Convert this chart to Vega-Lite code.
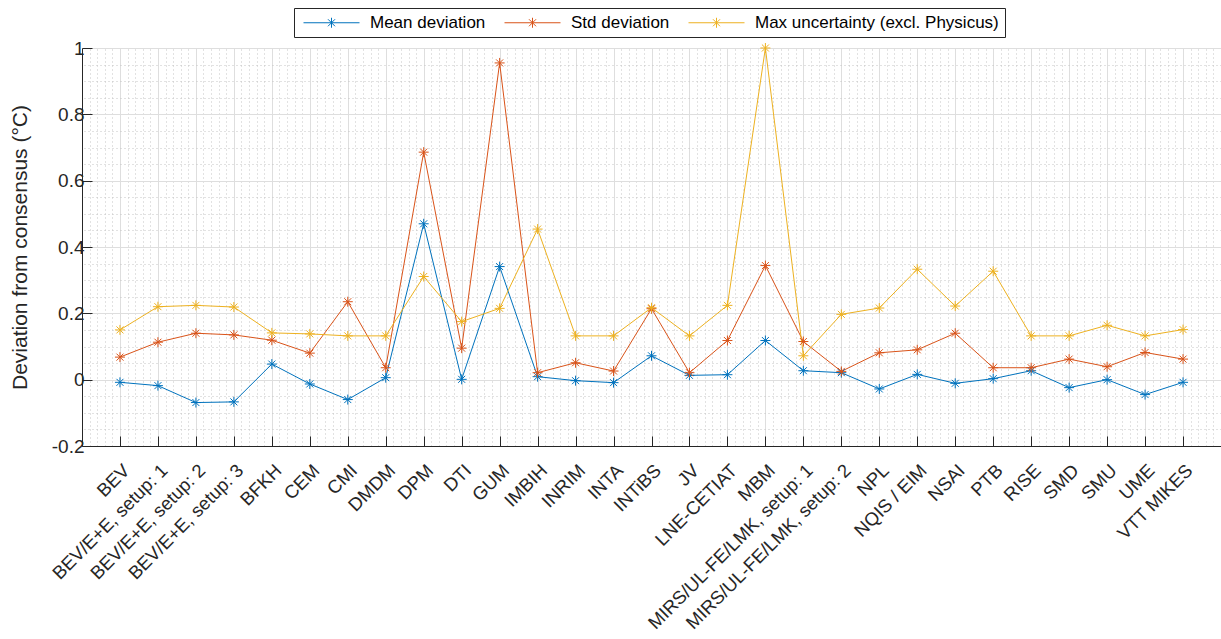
{
  "$schema": "https://vega.github.io/schema/vega-lite/v6.json",
  "width": 1139,
  "height": 398,
  "autosize": {"type": "none"},
  "padding": {"left": 82, "top": 48, "right": 0, "bottom": 193},
  "background": "white",
  "config": {
    "font": "Liberation Sans",
    "view": {"stroke": null},
    "axis": {"labelFont": "Liberation Sans", "titleFont": "Liberation Sans", "labelColor": "#262626", "titleColor": "#262626", "domainColor": "#262626", "tickColor": "#262626"}
  },
  "data": {"values": [
    {"lab": "BEV", "s": "Mean deviation", "v": -0.008},
    {"lab": "BEV/E+E, setup: 1", "s": "Mean deviation", "v": -0.018},
    {"lab": "BEV/E+E, setup: 2", "s": "Mean deviation", "v": -0.069},
    {"lab": "BEV/E+E, setup: 3", "s": "Mean deviation", "v": -0.067},
    {"lab": "BFKH", "s": "Mean deviation", "v": 0.047},
    {"lab": "CEM", "s": "Mean deviation", "v": -0.013},
    {"lab": "CMI", "s": "Mean deviation", "v": -0.060},
    {"lab": "DMDM", "s": "Mean deviation", "v": 0.006},
    {"lab": "DPM", "s": "Mean deviation", "v": 0.470},
    {"lab": "DTI", "s": "Mean deviation", "v": 0.001},
    {"lab": "GUM", "s": "Mean deviation", "v": 0.341},
    {"lab": "IMBIH", "s": "Mean deviation", "v": 0.009},
    {"lab": "INRIM", "s": "Mean deviation", "v": -0.003},
    {"lab": "INTA", "s": "Mean deviation", "v": -0.009},
    {"lab": "INTiBS", "s": "Mean deviation", "v": 0.072},
    {"lab": "JV", "s": "Mean deviation", "v": 0.013},
    {"lab": "LNE-CETIAT", "s": "Mean deviation", "v": 0.015},
    {"lab": "MBM", "s": "Mean deviation", "v": 0.118},
    {"lab": "MIRS/UL-FE/LMK, setup: 1", "s": "Mean deviation", "v": 0.027},
    {"lab": "MIRS/UL-FE/LMK, setup: 2", "s": "Mean deviation", "v": 0.021},
    {"lab": "NPL", "s": "Mean deviation", "v": -0.028},
    {"lab": "NQIS / EIM", "s": "Mean deviation", "v": 0.016},
    {"lab": "NSAI", "s": "Mean deviation", "v": -0.011},
    {"lab": "PTB", "s": "Mean deviation", "v": 0.003},
    {"lab": "RISE", "s": "Mean deviation", "v": 0.027},
    {"lab": "SMD", "s": "Mean deviation", "v": -0.024},
    {"lab": "SMU", "s": "Mean deviation", "v": 0.000},
    {"lab": "UME", "s": "Mean deviation", "v": -0.045},
    {"lab": "VTT MIKES", "s": "Mean deviation", "v": -0.008},
    {"lab": "BEV", "s": "Std deviation", "v": 0.068},
    {"lab": "BEV/E+E, setup: 1", "s": "Std deviation", "v": 0.113},
    {"lab": "BEV/E+E, setup: 2", "s": "Std deviation", "v": 0.140},
    {"lab": "BEV/E+E, setup: 3", "s": "Std deviation", "v": 0.135},
    {"lab": "BFKH", "s": "Std deviation", "v": 0.119},
    {"lab": "CEM", "s": "Std deviation", "v": 0.080},
    {"lab": "CMI", "s": "Std deviation", "v": 0.235},
    {"lab": "DMDM", "s": "Std deviation", "v": 0.036},
    {"lab": "DPM", "s": "Std deviation", "v": 0.686},
    {"lab": "DTI", "s": "Std deviation", "v": 0.095},
    {"lab": "GUM", "s": "Std deviation", "v": 0.955},
    {"lab": "IMBIH", "s": "Std deviation", "v": 0.021},
    {"lab": "INRIM", "s": "Std deviation", "v": 0.051},
    {"lab": "INTA", "s": "Std deviation", "v": 0.026},
    {"lab": "INTiBS", "s": "Std deviation", "v": 0.214},
    {"lab": "JV", "s": "Std deviation", "v": 0.021},
    {"lab": "LNE-CETIAT", "s": "Std deviation", "v": 0.118},
    {"lab": "MBM", "s": "Std deviation", "v": 0.344},
    {"lab": "MIRS/UL-FE/LMK, setup: 1", "s": "Std deviation", "v": 0.115},
    {"lab": "MIRS/UL-FE/LMK, setup: 2", "s": "Std deviation", "v": 0.025},
    {"lab": "NPL", "s": "Std deviation", "v": 0.081},
    {"lab": "NQIS / EIM", "s": "Std deviation", "v": 0.090},
    {"lab": "NSAI", "s": "Std deviation", "v": 0.140},
    {"lab": "PTB", "s": "Std deviation", "v": 0.036},
    {"lab": "RISE", "s": "Std deviation", "v": 0.036},
    {"lab": "SMD", "s": "Std deviation", "v": 0.062},
    {"lab": "SMU", "s": "Std deviation", "v": 0.039},
    {"lab": "UME", "s": "Std deviation", "v": 0.082},
    {"lab": "VTT MIKES", "s": "Std deviation", "v": 0.062},
    {"lab": "BEV", "s": "Max uncertainty (excl. Physicus)", "v": 0.150},
    {"lab": "BEV/E+E, setup: 1", "s": "Max uncertainty (excl. Physicus)", "v": 0.220},
    {"lab": "BEV/E+E, setup: 2", "s": "Max uncertainty (excl. Physicus)", "v": 0.224},
    {"lab": "BEV/E+E, setup: 3", "s": "Max uncertainty (excl. Physicus)", "v": 0.219},
    {"lab": "BFKH", "s": "Max uncertainty (excl. Physicus)", "v": 0.141},
    {"lab": "CEM", "s": "Max uncertainty (excl. Physicus)", "v": 0.138},
    {"lab": "CMI", "s": "Max uncertainty (excl. Physicus)", "v": 0.132},
    {"lab": "DMDM", "s": "Max uncertainty (excl. Physicus)", "v": 0.132},
    {"lab": "DPM", "s": "Max uncertainty (excl. Physicus)", "v": 0.311},
    {"lab": "DTI", "s": "Max uncertainty (excl. Physicus)", "v": 0.175},
    {"lab": "GUM", "s": "Max uncertainty (excl. Physicus)", "v": 0.215},
    {"lab": "IMBIH", "s": "Max uncertainty (excl. Physicus)", "v": 0.454},
    {"lab": "INRIM", "s": "Max uncertainty (excl. Physicus)", "v": 0.132},
    {"lab": "INTA", "s": "Max uncertainty (excl. Physicus)", "v": 0.132},
    {"lab": "INTiBS", "s": "Max uncertainty (excl. Physicus)", "v": 0.217},
    {"lab": "JV", "s": "Max uncertainty (excl. Physicus)", "v": 0.132},
    {"lab": "LNE-CETIAT", "s": "Max uncertainty (excl. Physicus)", "v": 0.224},
    {"lab": "MBM", "s": "Max uncertainty (excl. Physicus)", "v": 1.000},
    {"lab": "MIRS/UL-FE/LMK, setup: 1", "s": "Max uncertainty (excl. Physicus)", "v": 0.072},
    {"lab": "MIRS/UL-FE/LMK, setup: 2", "s": "Max uncertainty (excl. Physicus)", "v": 0.197},
    {"lab": "NPL", "s": "Max uncertainty (excl. Physicus)", "v": 0.216},
    {"lab": "NQIS / EIM", "s": "Max uncertainty (excl. Physicus)", "v": 0.333},
    {"lab": "NSAI", "s": "Max uncertainty (excl. Physicus)", "v": 0.222},
    {"lab": "PTB", "s": "Max uncertainty (excl. Physicus)", "v": 0.327},
    {"lab": "RISE", "s": "Max uncertainty (excl. Physicus)", "v": 0.132},
    {"lab": "SMD", "s": "Max uncertainty (excl. Physicus)", "v": 0.132},
    {"lab": "SMU", "s": "Max uncertainty (excl. Physicus)", "v": 0.164},
    {"lab": "UME", "s": "Max uncertainty (excl. Physicus)", "v": 0.132},
    {"lab": "VTT MIKES", "s": "Max uncertainty (excl. Physicus)", "v": 0.151}
  ]},
  "layer": [
    {
      "mark": {"type": "rule", "opacity": 0},
      "encoding": {
        "x": {"datum": 1, "type": "quantitative",
          "scale": {"domain": [0, 30], "nice": false, "zero": false},
          "axis": {"orient": "top", "tickCount": 150, "grid": true, "gridDash": [1, 3], "gridColor": "#c4c4c4",
            "gridOpacity": {"condition": {"test": "abs(datum.value - round(datum.value)) < 0.01", "value": 0}, "value": 1},
            "labels": false, "ticks": false, "domain": false, "title": null}},
        "y": {"datum": 0, "type": "quantitative",
          "scale": {"domain": [-0.2, 1], "nice": false, "zero": false},
          "axis": {"orient": "right", "values": [-0.15, -0.1, -0.05, 0.05, 0.1, 0.15, 0.25, 0.3, 0.35, 0.45, 0.5, 0.55, 0.65, 0.7, 0.75, 0.85, 0.9, 0.95],
            "grid": true, "gridDash": [1, 3], "gridColor": "#c4c4c4", "labels": false, "ticks": false, "domain": false, "title": null}}
      }
    },
    {
      "encoding": {
        "x": {"field": "lab", "type": "nominal", "sort": null, "scale": {"type": "point", "padding": 1},
          "axis": {"title": null, "labelAngle": -45, "labelAlign": "right", "labelBaseline": "middle", "labelFontSize": 18.5, "labelPadding": 31, "labelOffset": 6, "labelLimit": 400,
            "tickSize": -10, "grid": true, "gridColor": "#dedede", "domainWidth": 1}},
        "y": {"field": "v", "type": "quantitative",
          "scale": {"domain": [-0.2, 1], "nice": false, "zero": false},
          "axis": {"orient": "left", "values": [-0.2, 0, 0.2, 0.4, 0.6, 0.8, 1], "labelExpr": "toString(round(datum.value * 10) / 10)",
            "labelFontSize": 19, "labelPadding": 8, "tickSize": -10, "grid": true, "gridColor": "#dedede",
            "title": "Deviation from consensus (°C)", "titleFontSize": 21, "titleFontWeight": "normal", "titlePadding": 21}},
        "color": {"field": "s", "type": "nominal",
          "scale": {"domain": ["Mean deviation", "Std deviation", "Max uncertainty (excl. Physicus)"], "range": ["#0072BD", "#D95319", "#EDB120"]},
          "legend": {"orient": "none", "legendX": 212, "legendY": -40, "direction": "horizontal", "title": null,
            "symbolType": "M-1,0H10.2M4.6,-1V1M3.9,-0.7L5.3,0.7M3.9,0.7L5.3,-0.7", "symbolSize": 100, "symbolStrokeWidth": 1,
            "symbolFillColor": "transparent", "labelOffset": 53, "labelFontSize": 17, "labelFont": "Liberation Sans", "labelColor": "#000000", "labelLimit": 400,
            "strokeColor": "#262626", "fillColor": "white", "padding": 6, "columnPadding": 15}}
      },
      "layer": [
        {"mark": {"type": "line", "strokeWidth": 1}},
        {"mark": {"type": "point", "filled": false, "strokeWidth": 1, "size": 100, "opacity": 1,
          "shape": "M-1,0L1,0M0,-1L0,1M-0.7,-0.7L0.7,0.7M-0.7,0.7L0.7,-0.7"}}
      ]
    }
  ],
  "resolve": {"scale": {"x": "independent"}, "axis": {"x": "independent", "y": "independent"}}
}
